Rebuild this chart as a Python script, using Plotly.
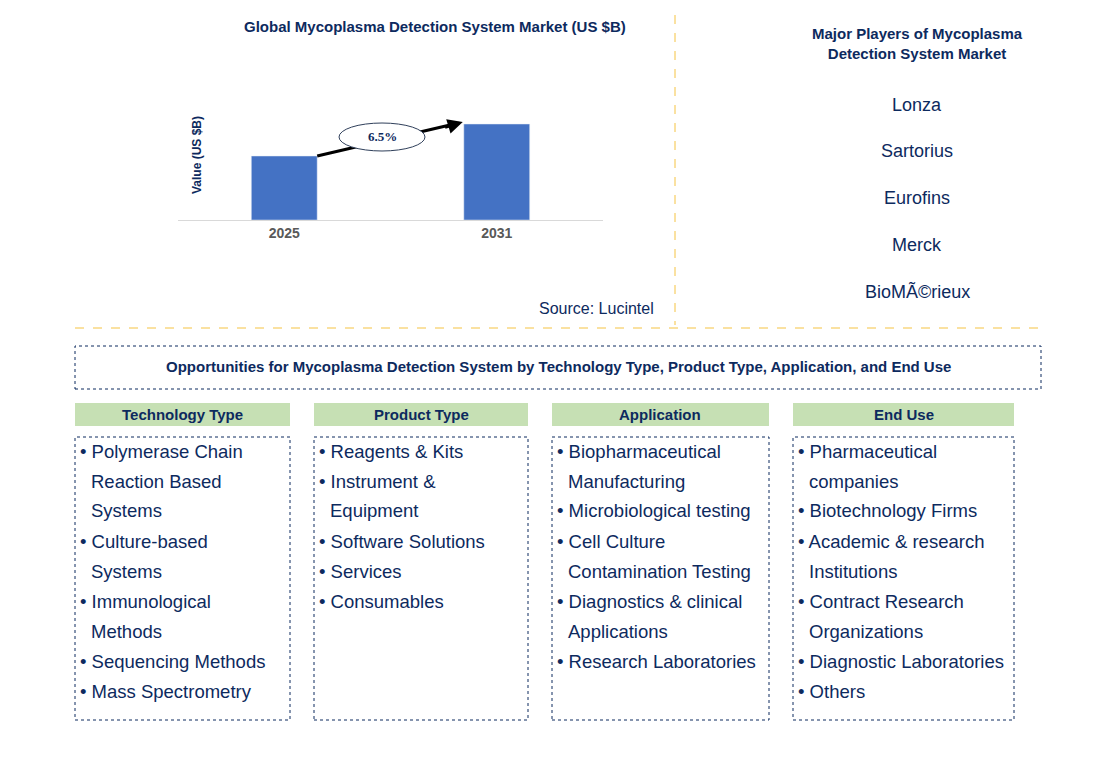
import plotly.graph_objects as go

W, H = 1106, 762
years = ["2025", "2031"]
values = [2.0, 3.0]
cagr = "6.5%"
players = ["Lonza", "Sartorius", "Eurofins", "Merck", "BioMÃ©rieux"]
headers = ["Technology Type", "Product Type", "Application", "End Use"]
lists = [
    [["• Polymerase Chain", "  Reaction Based", "  Systems"], ["• Culture-based", "  Systems"],
     ["• Immunological", "  Methods"], ["• Sequencing Methods"], ["• Mass Spectrometry"]],
    [["• Reagents & Kits"], ["• Instrument &", "  Equipment"], ["• Software Solutions"],
     ["• Services"], ["• Consumables"]],
    [["• Biopharmaceutical", "  Manufacturing"], ["• Microbiological testing"],
     ["• Cell Culture", "  Contamination Testing"], ["• Diagnostics & clinical", "  Applications"],
     ["• Research Laboratories"]],
    [["• Pharmaceutical", "  companies"], ["• Biotechnology Firms"],
     ["• Academic & research", "  Institutions"], ["• Contract Research", "  Organizations"],
     ["• Diagnostic Laboratories"], ["• Others"]],
]

NAVY = "#0d2a5e"
def px(x): return x / W
def py(y): return 1 - y / H

def txt(x, y, t, size, xa="center", **kw):
    return dict(x=px(x), y=py(y), xref="paper", yref="paper", text=t, showarrow=False,
                xanchor=xa, yanchor="middle", font=dict(size=size, color=NAVY), **kw)

fig = go.Figure(go.Bar(x=years, y=values, marker_color="#4472c4", width=0.31))
fig.update_layout(
    width=W, height=H, margin=dict(l=0, r=0, t=0, b=0),
    plot_bgcolor="white", paper_bgcolor="white", showlegend=False,
    font=dict(family="Arial, Liberation Sans", color=NAVY),
    xaxis=dict(domain=[px(178), px(603)], range=[-0.5, 1.5], showline=True, linecolor="#d9d9d9",
               tickfont=dict(size=14, color="#595959", family="Liberation Sans"), ticks="",
               tickprefix="<b>", ticksuffix="</b>"),
    yaxis=dict(domain=[py(220), py(100)], range=[0, 3.75], showticklabels=False,
               showgrid=False, zeroline=False),
)
shapes, ann = [], []
shapes.append(dict(type="line", xref="x", yref="y", x0=0.155, y0=values[0], x1=0.80, y1=values[1],
                   layer="above", line=dict(color="black", width=3)))
shapes.append(dict(type="circle", xref="paper", yref="paper", x0=px(339), x1=px(425), y0=py(151), y1=py(123),
                   fillcolor="white", layer="above", line=dict(color="#2f3f5a", width=1)))
ann.append(dict(x=0.84, y=values[1] * 1.02, ax=0.75, ay=values[1] * 0.96, xref="x", yref="y", axref="x", ayref="y",
                showarrow=True, arrowhead=2, arrowsize=1, arrowwidth=3, arrowcolor="black", text=""))
ann.append(dict(txt(382, 137, "<b>" + cagr + "</b>", 13), font=dict(family="Liberation Serif", size=13, color=NAVY)))
ann.append(txt(197, 155, "<b>Value (US $B)</b>", 12, textangle=-90))
ann.append(txt(435, 26, "<b>Global Mycoplasma Detection System Market (US $B)</b>", 15))
ann.append(txt(656, 309, "Source: Lucintel", 16, xa="right"))
ann.append(txt(917, 43, "<b>Major Players of Mycoplasma<br>Detection System Market</b>", 15))
for i, p in enumerate(players):
    ann.append(txt(917, 105 + i * 46.5, p, 18))
shapes.append(dict(type="line", xref="paper", yref="paper", x0=px(675), x1=px(675), y0=py(15), y1=py(325),
                   line=dict(color="#f5c342", width=1, dash="dash")))
shapes.append(dict(type="line", xref="paper", yref="paper", x0=px(75), x1=px(1041), y0=py(328), y1=py(328),
                   line=dict(color="#f5c342", width=1, dash="dash")))
shapes.append(dict(type="rect", xref="paper", yref="paper", x0=px(75), x1=px(1041), y0=py(389), y1=py(346),
                   line=dict(color=NAVY, width=1, dash="dot")))
ann.append(txt(558, 367, "<b>Opportunities for Mycoplasma Detection System by Technology Type, Product Type, Application, and End Use</b>", 15))
cols = [(75, 290), (314, 528), (552, 769), (793, 1014)]
for (x0, x1), h, items in zip(cols, headers, lists):
    shapes.append(dict(type="rect", xref="paper", yref="paper", x0=px(x0), x1=px(x1), y0=py(426), y1=py(403),
                       fillcolor="#c6e0b4", line=dict(width=0)))
    ann.append(txt((x0 + x1) / 2, 414, "<b>" + h + "</b>", 15))
    shapes.append(dict(type="rect", xref="paper", yref="paper", x0=px(x0), x1=px(x1), y0=py(720), y1=py(437),
                       line=dict(color=NAVY, width=1, dash="dot")))
    k = 0
    for it in items:
        for j, line in enumerate(it):
            ann.append(txt(x0 + 3 + (11 if j else 0), 451 + 30 * k, line.strip(), 18.5, xa="left"))
            k += 1
fig.update_layout(shapes=shapes, annotations=ann)
fig.write_html("out.html", config={"displayModeBar": False})
with open("out.html", encoding="utf-8") as f:
    s = f.read()
s = s.replace("<head>", "<head><style>html,body{margin:0;padding:0;overflow:hidden}</style>", 1)
with open("out.html", "w", encoding="utf-8") as f:
    f.write(s)
